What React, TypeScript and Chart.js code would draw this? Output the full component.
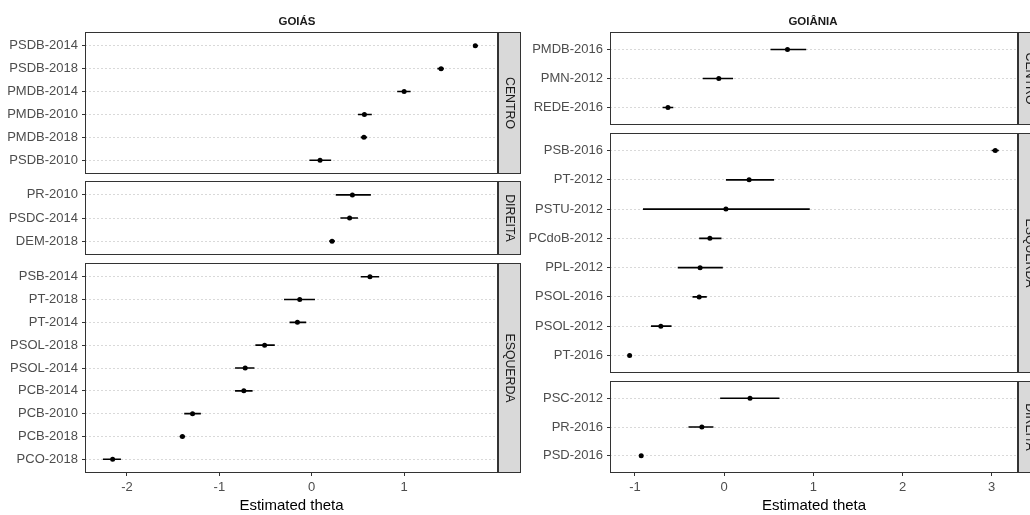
import React, { useEffect, useRef } from 'react';
import { Chart, registerables } from 'chart.js';

Chart.register(...registerables);

const FONT = '"Liberation Sans", Arial, Helvetica, sans-serif';

// ---------- DATA ----------
// GOIÁS
const goiasCentroParties = ['PSDB-2014', 'PSDB-2018', 'PMDB-2014', 'PMDB-2010', 'PMDB-2018', 'PSDB-2010'];
const goiasCentroTheta = [1.77, 1.40, 1.00, 0.57, 0.565, 0.09];
const goiasCentroLow = [1.75, 1.36, 0.925, 0.50, 0.53, -0.025];
const goiasCentroHigh = [1.80, 1.43, 1.07, 0.65, 0.60, 0.21];

const goiasDireitaParties = ['PR-2010', 'PSDC-2014', 'DEM-2018'];
const goiasDireitaTheta = [0.44, 0.41, 0.22];
const goiasDireitaLow = [0.26, 0.31, 0.19];
const goiasDireitaHigh = [0.64, 0.50, 0.25];

const goiasEsquerdaParties = ['PSB-2014', 'PT-2018', 'PT-2014', 'PSOL-2018', 'PSOL-2014', 'PCB-2014', 'PCB-2010', 'PCB-2018', 'PCO-2018'];
const goiasEsquerdaTheta = [0.63, -0.13, -0.155, -0.51, -0.72, -0.735, -1.29, -1.40, -2.155];
const goiasEsquerdaLow = [0.53, -0.30, -0.24, -0.61, -0.83, -0.83, -1.38, -1.43, -2.26];
const goiasEsquerdaHigh = [0.73, 0.035, -0.06, -0.40, -0.62, -0.64, -1.20, -1.37, -2.065];

// GOIÂNIA
const goianiaCentroParties = ['PMDB-2016', 'PMN-2012', 'REDE-2016'];
const goianiaCentroTheta = [0.71, -0.06, -0.63];
const goianiaCentroLow = [0.52, -0.24, -0.69];
const goianiaCentroHigh = [0.92, 0.10, -0.57];

const goianiaEsquerdaParties = ['PSB-2016', 'PT-2012', 'PSTU-2012', 'PCdoB-2012', 'PPL-2012', 'PSOL-2016', 'PSOL-2012', 'PT-2016'];
const goianiaEsquerdaTheta = [3.04, 0.28, 0.02, -0.16, -0.27, -0.28, -0.71, -1.06];
const goianiaEsquerdaLow = [3.0, 0.02, -0.91, -0.28, -0.52, -0.355, -0.82, -1.07];
const goianiaEsquerdaHigh = [3.08, 0.56, 0.96, -0.03, -0.015, -0.195, -0.59, -1.05];

const goianiaDireitaParties = ['PSC-2012', 'PR-2016', 'PSD-2016'];
const goianiaDireitaTheta = [0.29, -0.25, -0.93];
const goianiaDireitaLow = [-0.045, -0.40, -0.94];
const goianiaDireitaHigh = [0.62, -0.12, -0.92];

const goiasTicks = [-2, -1, 0, 1];
const goianiaTicks = [-1, 0, 1, 2, 3];
const goiasRange = [-2.454, 2.016];
const goianiaRange = [-1.28, 3.295];
const axisTitle = 'Estimated theta';

// ---------- LAYOUT ----------
type Spec = {
  key: string;
  strip: string;
  parties: string[];
  theta: number[];
  low: number[];
  high: number[];
  ticks: number[];
  range: number[];
  left: number;
  top: number;
  width: number;
  height: number;
  padTop: number;
  padBottom: number;
  padRight: number;
  yAxisW: number;
  xAxis: boolean;
  title?: string;
  titleX?: number;
};

const LEFT_COL = { left: 0, width: 521, yAxisW: 85, padRight: 23 };
const RIGHT_COL = { left: 521, width: 509, yAxisW: 89, padRight: 12 };

const specs: Spec[] = [
  { key: 'gc', strip: 'CENTRO', parties: goiasCentroParties, theta: goiasCentroTheta, low: goiasCentroLow, high: goiasCentroHigh, ticks: goiasTicks, range: goiasRange, ...LEFT_COL, top: 0, height: 186, padTop: 32, padBottom: 12, xAxis: false, title: 'GOIÁS', titleX: 297 },
  { key: 'gd', strip: 'DIREITA', parties: goiasDireitaParties, theta: goiasDireitaTheta, low: goiasDireitaLow, high: goiasDireitaHigh, ticks: goiasTicks, range: goiasRange, ...LEFT_COL, top: 169, height: 98, padTop: 12, padBottom: 12, xAxis: false },
  { key: 'ge', strip: 'ESQUERDA', parties: goiasEsquerdaParties, theta: goiasEsquerdaTheta, low: goiasEsquerdaLow, high: goiasEsquerdaHigh, ticks: goiasTicks, range: goiasRange, ...LEFT_COL, top: 251, height: 264, padTop: 12, padBottom: 0, xAxis: true },
  { key: 'nc', strip: 'CENTRO', parties: goianiaCentroParties, theta: goianiaCentroTheta, low: goianiaCentroLow, high: goianiaCentroHigh, ticks: goianiaTicks, range: goianiaRange, ...RIGHT_COL, top: 0, height: 137, padTop: 32, padBottom: 12, xAxis: false, title: 'GOIÂNIA', titleX: 813 - 521 },
  { key: 'ne', strip: 'ESQUERDA', parties: goianiaEsquerdaParties, theta: goianiaEsquerdaTheta, low: goianiaEsquerdaLow, high: goianiaEsquerdaHigh, ticks: goianiaTicks, range: goianiaRange, ...RIGHT_COL, top: 121, height: 264, padTop: 12, padBottom: 12, xAxis: false },
  { key: 'nd', strip: 'DIREITA', parties: goianiaDireitaParties, theta: goianiaDireitaTheta, low: goianiaDireitaLow, high: goianiaDireitaHigh, ticks: goianiaTicks, range: goianiaRange, ...RIGHT_COL, top: 369, height: 146, padTop: 12, padBottom: 0, xAxis: true },
];

const STRIP_W = 23;

function Panel({ spec }: { spec: Spec }) {
  const ref = useRef<HTMLCanvasElement>(null);
  useEffect(() => {
    const canvas = ref.current;
    if (!canvas) return;
    const n = spec.parties.length;
    const ciData: { x: number; y: number | null }[] = [];
    spec.parties.forEach((_, i) => {
      ciData.push({ x: spec.low[i], y: i }, { x: spec.high[i], y: i }, { x: spec.high[i], y: null });
    });
    const ptData = spec.theta.map((v, i) => ({ x: v, y: i }));

    const facetPlugin = {
      id: 'facet' + spec.key,
      afterDraw(chart: any) {
        const { ctx, chartArea } = chart;
        const { left, right, top, bottom } = chartArea;
        ctx.save();
        // panel border
        ctx.strokeStyle = '#333333';
        ctx.lineWidth = 1;
        ctx.strokeRect(Math.round(left) + 0.5, Math.round(top) + 0.5, Math.round(right - left) - 1, Math.round(bottom - top) - 1);
        // strip
        ctx.fillStyle = '#D9D9D9';
        ctx.fillRect(Math.round(right), Math.round(top), STRIP_W, Math.round(bottom - top));
        ctx.strokeRect(Math.round(right) + 0.5, Math.round(top) + 0.5, STRIP_W - 1, Math.round(bottom - top) - 1);
        ctx.translate(right + STRIP_W / 2, (top + bottom) / 2);
        ctx.rotate(Math.PI / 2);
        ctx.fillStyle = '#1A1A1A';
        ctx.font = `12.3px ${FONT}`;
        ctx.textAlign = 'center';
        ctx.textBaseline = 'middle';
        ctx.fillText(spec.strip, 0, 0);
        ctx.restore();
        if (spec.title) {
          ctx.save();
          ctx.fillStyle = '#1A1A1A';
          ctx.font = `bold 11.5px ${FONT}`;
          ctx.textAlign = 'center';
          ctx.textBaseline = 'middle';
          ctx.fillText(spec.title, spec.titleX, 22);
          ctx.restore();
        }
      },
    };

    const chart = new Chart(canvas, {
      type: 'scatter',
      data: {
        datasets: [
          {
            type: 'line',
            data: ciData as any,
            borderColor: '#000000',
            borderWidth: 1.6,
            pointRadius: 0,
            showLine: true,
            spanGaps: false,
            fill: false,
            tension: 0,
          } as any,
          {
            type: 'scatter',
            data: ptData,
            pointRadius: 2.5,
            pointBackgroundColor: '#000000',
            pointBorderColor: '#000000',
            pointBorderWidth: 0,
            backgroundColor: '#000000',
            borderColor: '#000000',
          } as any,
        ],
      },
      options: {
        responsive: false,
        maintainAspectRatio: false,
        animation: false,
        devicePixelRatio: 1,
        events: [],
        layout: { padding: { top: spec.padTop, bottom: spec.padBottom, left: 0, right: spec.padRight } },
        plugins: { legend: { display: false }, tooltip: { enabled: false }, title: { display: false } },
        scales: {
          x: {
            type: 'linear',
            min: spec.range[0],
            max: spec.range[1],
            display: spec.xAxis,
            afterBuildTicks: (s: any) => {
              s.ticks = spec.ticks.map((v) => ({ value: v }));
            },
            afterFit: (s: any) => {
              s.height = spec.xAxis ? 42 : 0;
            },
            grid: { drawOnChartArea: false, drawTicks: true, tickLength: 3, tickColor: '#333333', tickWidth: 1 },
            border: { display: false },
            ticks: {
              color: '#4D4D4D',
              font: { family: FONT, size: 13 },
              padding: 4,
              maxRotation: 0,
              autoSkip: false,
              callback: (v: any) => String(v),
            },
            title: {
              display: true,
              text: axisTitle,
              color: '#000000',
              font: { family: FONT, size: 15 },
              padding: { top: 0, bottom: 0 },
            },
          },
          y: {
            type: 'linear',
            reverse: true,
            min: -0.6,
            max: n - 0.4,
            afterBuildTicks: (s: any) => {
              s.ticks = spec.parties.map((_, i) => ({ value: i }));
            },
            afterFit: (s: any) => {
              s.width = spec.yAxisW;
            },
            grid: {
              color: '#D9D9D9',
              lineWidth: 1,
              drawTicks: true,
              tickLength: 3,
              tickColor: '#333333',
              tickWidth: 1,
              tickBorderDash: [],
            } as any,
            border: { display: false, dash: [2, 2] },
            ticks: {
              color: '#4D4D4D',
              font: { family: FONT, size: 13 },
              padding: 4,
              autoSkip: false,
              callback: (v: any) => spec.parties[v as number] ?? '',
            },
          },
        },
      } as any,
      plugins: [facetPlugin],
    });
    return () => chart.destroy();
  }, [spec]);
  return (
    <canvas
      ref={ref}
      width={spec.width}
      height={spec.height}
      style={{ position: 'absolute', left: spec.left, top: spec.top, width: spec.width, height: spec.height }}
    />
  );
}

export default function App() {
  return (
    <div style={{ position: 'fixed', left: 0, top: 0, width: 1030, height: 515, background: '#FFFFFF', overflow: 'hidden' }}>
      {specs.map((s) => (
        <Panel key={s.key} spec={s} />
      ))}
    </div>
  );
}
